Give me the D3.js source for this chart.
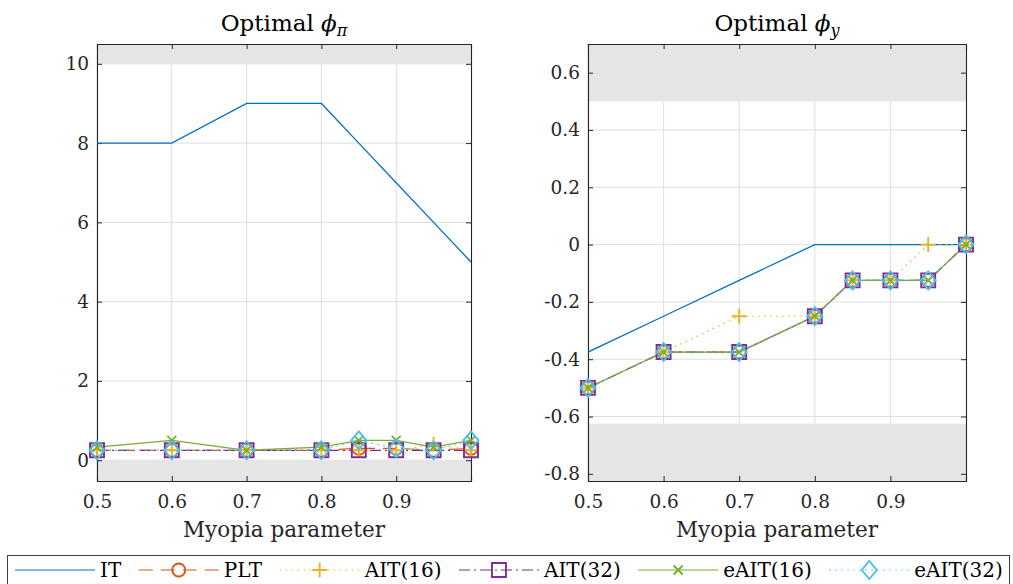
<!DOCTYPE html>
<html>
<head>
<meta charset="utf-8">
<script src="https://cdn.jsdelivr.net/npm/d3@7"></script>
<style>
  html, body { margin: 0; padding: 0; background: #fff; }
  svg { display: block; font-family: "DejaVu Serif", serif; }
</style>
</head>
<body>
<svg id="chart" width="1013" height="584"></svg>
<script>
// Myopia parameter grid
const myopia = [0.5, 0.6, 0.7, 0.8, 0.85, 0.9, 0.95, 1.0];

// Optimal phi_pi by rule
const piIT    = [8, 8, 9, 9, 8, 7, 6, 5];
const piPLT   = [0.25, 0.25, 0.25, 0.25, 0.3, 0.3, 0.25, 0.3];
const piAIT16 = [0.25, 0.25, 0.25, 0.25, 0.25, 0.25, 0.4, 0.25];
const piAIT32 = [0.25, 0.25, 0.25, 0.25, 0.25, 0.25, 0.25, 0.25];
const piEAIT16 = [0.33, 0.5, 0.25, 0.33, 0.5, 0.5, 0.33, 0.5];
const piEAIT32 = [0.25, 0.25, 0.25, 0.25, 0.5, 0.3, 0.25, 0.5];

// Optimal phi_y by rule
const yIT    = [-0.375, -0.25, -0.125, 0, 0, 0, 0, 0];
const yPLT   = [-0.5, -0.375, -0.375, -0.25, -0.125, -0.125, -0.125, 0];
const yAIT16 = [-0.5, -0.375, -0.25, -0.25, -0.125, -0.125, 0, 0];
const yAIT32 = [-0.5, -0.375, -0.375, -0.25, -0.125, -0.125, -0.125, 0];
const yEAIT16 = [-0.5, -0.375, -0.375, -0.25, -0.125, -0.125, -0.125, 0];
const yEAIT32 = [-0.5, -0.375, -0.375, -0.25, -0.125, -0.125, -0.125, 0];

const seriesNames = ["IT", "PLT", "AIT(16)", "AIT(32)", "eAIT(16)", "eAIT(32)"];

const xTicks = [0.5, 0.6, 0.7, 0.8, 0.9];
const piTicks = [0, 2, 4, 6, 8, 10];
const yTicks = [-0.8, -0.6, -0.4, -0.2, 0, 0.2, 0.4, 0.6];

// Shaded regions outside the admissible coefficient range
const piBands = [[10, 10.5], [-0.525, 0]];
const yBands = [[0.5, 0.7], [-0.825, -0.625]];

// Line styles per rule (MATLAB default palette)
const styles = [
  { color: "#0072BD", dash: null, marker: null },
  { color: "#D95319", dash: "14 8", marker: "circle" },
  { color: "#EDB120", dash: "1.5 4.5", marker: "plus" },
  { color: "#7E2F8E", dash: "11 4 2 4", marker: "square" },
  { color: "#77AC30", dash: null, marker: "x" },
  { color: "#4DBEEE", dash: "1.5 4.5", marker: "diamond" }
];

function markerPath(kind) {
  switch (kind) {
    case "circle": { const r = 6.5; return `M${-r},0A${r},${r} 0 1,0 ${r},0A${r},${r} 0 1,0 ${-r},0Z`; }
    case "plus": return "M-7.5,0H7.5M0,-7.5V7.5";
    case "square": return "M-7,-7H7V7H-7Z";
    case "x": return "M-4.5,-4.5L4.5,4.5M-4.5,4.5L4.5,-4.5";
    case "diamond": return "M0,-9L7.5,0L0,9L-7.5,0Z";
  }
  return "";
}

const svg = d3.select("#chart");
const axisColor = "#262626";

function drawPanel(cfg) {
  const { left, right, top, bottom, yDomain, yTickVals, bands, data, sub, fmt } = cfg;
  const x = d3.scaleLinear().domain([0.5, 1.0]).range([left, right]);
  const y = d3.scaleLinear().domain(yDomain).range([bottom, top]);
  const g = svg.append("g");

  const clipId = "clip" + Math.round(left);
  svg.append("clipPath").attr("id", clipId)
    .append("rect").attr("x", left).attr("y", top).attr("width", right - left).attr("height", bottom - top);

  // grid
  g.selectAll(".gx").data(xTicks).join("line")
    .attr("x1", d => x(d)).attr("x2", d => x(d)).attr("y1", top).attr("y2", bottom)
    .attr("stroke", "#dedede").attr("stroke-width", 1);
  g.selectAll(".gy").data(yTickVals).join("line")
    .attr("x1", left).attr("x2", right).attr("y1", d => y(d)).attr("y2", d => y(d))
    .attr("stroke", "#dedede").attr("stroke-width", 1);

  // shaded bands
  g.selectAll(".band").data(bands).join("rect")
    .attr("x", left).attr("width", right - left)
    .attr("y", d => y(d[1])).attr("height", d => y(d[0]) - y(d[1]))
    .attr("fill", "#e5e5e5");

  // axes (ticks pointing inward, box on)
  const ax = [
    d3.axisBottom(x).tickValues(xTicks).tickSize(-5).tickFormat(d3.format(".1f")),
    d3.axisTop(x).tickValues(xTicks).tickSize(-5).tickFormat(""),
    d3.axisLeft(y).tickValues(yTickVals).tickSize(-5).tickFormat(fmt),
    d3.axisRight(y).tickValues(yTickVals).tickSize(-5).tickFormat("")
  ];
  const pos = [`translate(0,${bottom})`, `translate(0,${top})`, `translate(${left},0)`, `translate(${right},0)`];
  ax.forEach((a, i) => {
    const ag = svg.append("g").attr("transform", pos[i]).call(a);
    ag.select(".domain").attr("stroke", axisColor).attr("stroke-width", 1.1);
    ag.selectAll(".tick line").attr("stroke", axisColor);
    ag.selectAll(".tick text").attr("fill", axisColor).attr("font-size", 18.5)
      .attr("font-family", "DejaVu Serif, serif");
    if (i === 0) ag.selectAll(".tick text").attr("y", 14);
    if (i === 2) ag.selectAll(".tick text").attr("x", -8);
  });

  // series lines
  const line = d3.line().x((d, i) => x(myopia[i])).y(d => y(d));
  data.forEach((vals, k) => {
    const s = styles[k];
    svg.append("path").attr("d", line(vals)).attr("fill", "none")
      .attr("clip-path", `url(#${clipId})`)
      .attr("stroke", s.color).attr("stroke-width", k === 0 ? 1.3 : 1.2)
      .attr("stroke-dasharray", s.dash);
  });
  // markers
  data.forEach((vals, k) => {
    const s = styles[k];
    if (!s.marker) return;
    svg.selectAll(null).data(vals).join("path")
      .attr("transform", (d, i) => `translate(${x(myopia[i])},${y(d)})`)
      .attr("d", markerPath(s.marker)).attr("fill", "none")
      .attr("stroke", s.color).attr("stroke-width", s.marker === "x" ? 1.8 : 1.9);
  });

  // title
  const t = svg.append("text").attr("x", (left + right) / 2).attr("y", 31)
    .attr("text-anchor", "middle").attr("font-size", 23).attr("fill", "#000");
  t.append("tspan").text("Optimal ");
  t.append("tspan").attr("font-style", "italic").text("ϕ");
  t.append("tspan").attr("font-style", "italic").attr("font-size", 16).attr("dy", 5).text(sub);

  // x label
  svg.append("text").attr("x", (left + right) / 2).attr("y", 537)
    .attr("text-anchor", "middle").attr("font-size", 21.5).attr("fill", axisColor)
    .text("Myopia parameter");
}

drawPanel({
  left: 97, right: 471, top: 44, bottom: 481,
  yDomain: [-0.525, 10.5], yTickVals: piTicks, bands: piBands,
  data: [piIT, piPLT, piAIT16, piAIT32, piEAIT16, piEAIT32],
  sub: "π", fmt: d3.format("d")
});
drawPanel({
  left: 588, right: 966, top: 44, bottom: 481,
  yDomain: [-0.825, 0.7], yTickVals: yTicks, bands: yBands,
  data: [yIT, yPLT, yAIT16, yAIT32, yEAIT16, yEAIT32],
  sub: "y", fmt: d => d === 0 ? "0" : d3.format(".1f")(d).replace("−", "-")
});

// legend
const lg = svg.append("g");
lg.append("rect").attr("x", 7.5).attr("y", 555.5).attr("width", 1002).attr("height", 40)
  .attr("fill", "#fff").attr("stroke", "#404040").attr("stroke-width", 1);
let cx = 15;
const ly = 570;
seriesNames.forEach((name, k) => {
  const s = styles[k];
  lg.append("line").attr("x1", cx).attr("x2", cx + 80).attr("y1", ly).attr("y2", ly)
    .attr("stroke", s.color).attr("stroke-width", 1.2).attr("stroke-dasharray", s.dash);
  if (s.marker) {
    lg.append("path").attr("transform", `translate(${cx + 40},${ly})`)
      .attr("d", markerPath(s.marker)).attr("fill", "none")
      .attr("stroke", s.color).attr("stroke-width", 1.9);
  }
  const tx = lg.append("text").attr("x", cx + 85).attr("y", ly + 7)
    .attr("font-size", 20).attr("fill", "#000").text(name);
  cx = cx + 85 + tx.node().getComputedTextLength() + 17.5;
});
</script>
</body>
</html>
